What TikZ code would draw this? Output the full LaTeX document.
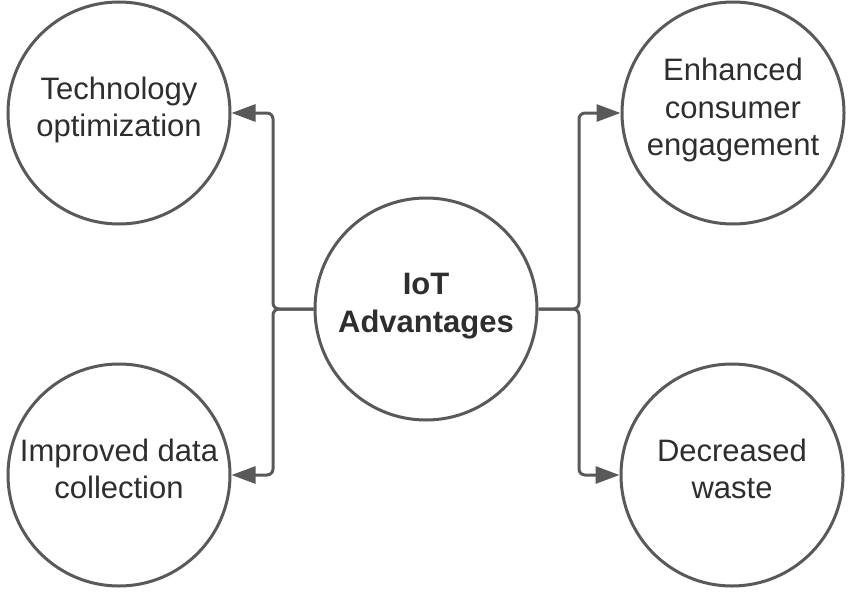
\documentclass[tikz,border=0pt]{standalone}
\usepackage{fontspec}
\setmainfont{Liberation Sans}
\usetikzlibrary{arrows.meta}
\definecolor{linegray}{HTML}{595959}
\definecolor{textgray}{HTML}{2E2E2E}
\begin{document}
\begin{tikzpicture}[x=1pt,y=-1pt,
  bubble/.style={circle, draw=linegray, line width=3pt, fill=white, inner sep=0pt,
    minimum size=222pt, align=center, text=textgray,
    font=\fontsize{31}{37.5}\selectfont,
    execute at end node={\rule[-12pt]{0pt}{0pt}}},
  conn/.style={draw=linegray, line width=3pt, rounded corners=6pt,
    -{Triangle[length=24pt,width=17pt]}}]
\useasboundingbox (0,0) rectangle (850,594);
\node[bubble] (c)  at (426,309) {\textbf{IoT}\\\textbf{Advantages}};
\node[bubble] (tl) at (119,113) {Technology\\optimization};
\node[bubble] (bl) at (119,475) {Improved data\\collection};
\node[bubble] (tr) at (733,113) {Enhanced\\consumer\\engagement};
\node[bubble] (br) at (732,475) {Decreased\\waste};
\coordinate (jl) at (273,309);
\coordinate (jr) at (579,309);
\draw[conn] (c.west) -- (jl) |- (tl.east);
\draw[conn] (c.west) -- (jl) |- (bl.east);
\draw[conn] (c.east) -- (jr) |- (tr.west);
\draw[conn] (c.east) -- (jr) |- (br.west);
\end{tikzpicture}
\end{document}
